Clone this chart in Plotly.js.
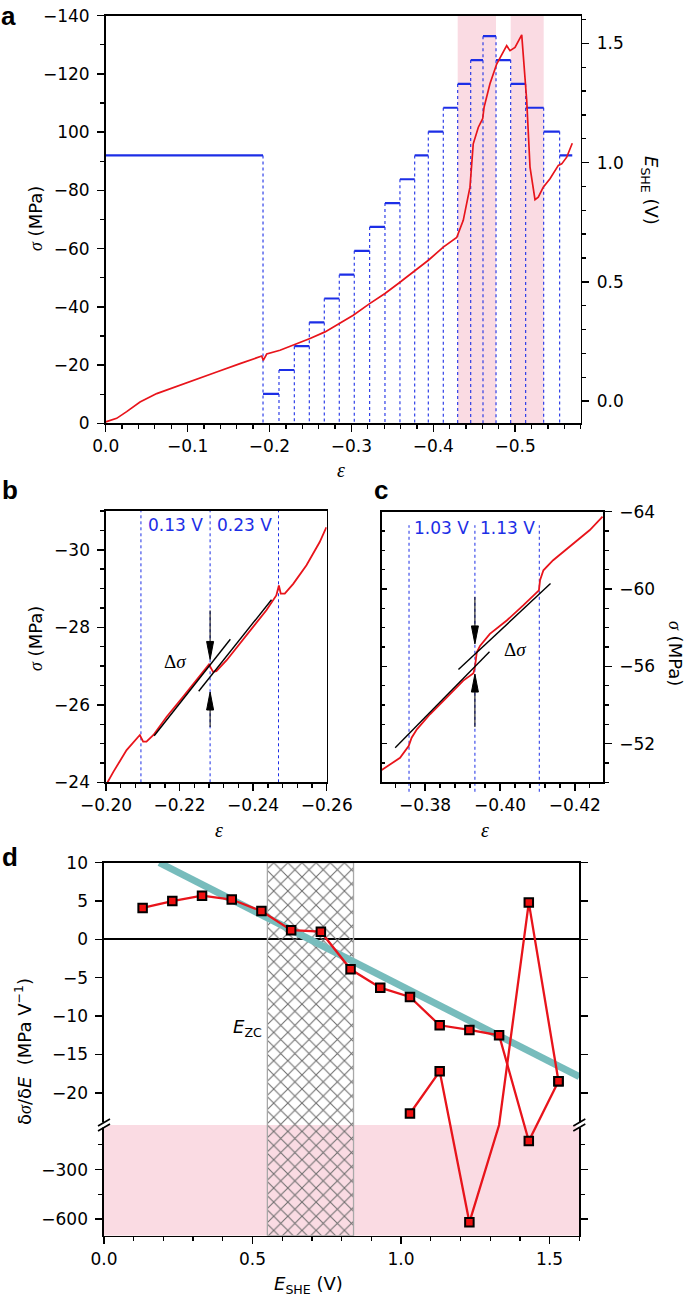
<!DOCTYPE html>
<html><head><meta charset="utf-8">
<script src="https://cdn.plot.ly/plotly-3.0.1.min.js"></script>
<style>html,body{margin:0;padding:0;background:#fff;}#chart{width:685px;height:1302px;}</style>
</head><body><div id="chart"></div>
<script>
// ---------------- DATA ----------------
// Panel a: stress-strain curve
const strainA = [0, -0.0134, -0.0256, -0.0419, -0.0623, -0.0989, -0.1355, -0.164, -0.1905, -0.1924, -0.1966, -0.2128, -0.229, -0.2495, -0.2678, -0.2849, -0.3023, -0.3223, -0.341, -0.3573, -0.3777, -0.394, -0.4122, -0.4286, -0.4366, -0.4448, -0.4488, -0.455, -0.4603, -0.462, -0.4692, -0.4774, -0.4896, -0.4937, -0.4998, -0.508, -0.5141, -0.5181, -0.5242, -0.5282, -0.5343, -0.5425, -0.5527, -0.5568, -0.5629, -0.5697];
const stressA = [-0.5, -1.7, -4, -7.3, -10.2, -13.8, -17.6, -20.5, -23.1, -21.6, -23.8, -25.1, -26.8, -29.1, -31.4, -34.3, -37.1, -41.1, -44.6, -48, -52.6, -56, -60.5, -63.8, -69.7, -81.1, -96, -101.7, -104.6, -108.5, -116.6, -123.4, -129.7, -128, -129.1, -133.4, -110.8, -88, -76.8, -77.7, -81.1, -84, -88.6, -89.1, -91.4, -96.2];
// Panel a: potential steps (edges in strain, potential in V)
const stepEdgesA = [0, -0.1921, -0.2116, -0.2303, -0.2486, -0.2669, -0.2852, -0.3035, -0.3223, -0.3410, -0.3593, -0.3773, -0.3939, -0.4122, -0.4298, -0.4457, -0.4607, -0.4766, -0.4945, -0.5128, -0.5348, -0.5543, -0.5697];
const stepPotentialA = [1.03, 0.03, 0.13, 0.23, 0.33, 0.43, 0.53, 0.63, 0.73, 0.83, 0.93, 1.03, 1.13, 1.23, 1.33, 1.43, 1.53, 1.43, 1.33, 1.23, 1.13, 1.03];
const pinkStartA = [-0.4298, -0.4945];
const pinkEndA = [-0.4766, -0.5348];
const xTicksA = [0, -0.1, -0.2, -0.3, -0.4, -0.5];
const stressTickValsA = [0, -20, -40, -60, -80, -100, -120, -140];
const stressTickTextA = ['0', '\u221220', '\u221240', '\u221260', '\u221280', '100', '\u2212120', '\u2212140'];

// Panel b
const strainB = [-0.2, -0.202, -0.2056, -0.2083, -0.2092, -0.2101, -0.211, -0.2129, -0.2165, -0.221, -0.2255, -0.228, -0.2291, -0.23, -0.2328, -0.2364, -0.24, -0.2436, -0.2463, -0.247, -0.2475, -0.2486, -0.2509, -0.2545, -0.2581, -0.2599];
const stressB = [-23.93, -24.27, -24.83, -25.13, -25.22, -25.05, -25.05, -25.22, -25.69, -26.21, -26.76, -27.04, -26.85, -26.87, -27.15, -27.58, -28.0, -28.44, -28.82, -29.08, -28.87, -28.87, -29.12, -29.6, -30.2, -30.58];
const switchStrainB = [-0.2095, -0.2283, -0.2469];
const switchLabelsB = ['0.13 V', '0.23 V'];
const fit1StrainB = [-0.2131, -0.2338];
const fit1StressB = [-25.2, -27.69];
const fit2StrainB = [-0.2252, -0.245];
const fit2StressB = [-26.35, -28.71];
const arrowTipsB = [-27.17, -26.33];
const deltaLabelB = [-0.2188, -27.12];

// Panel c
const strainC = [-0.3684, -0.3707, -0.3733, -0.3756, -0.3764, -0.3778, -0.3813, -0.3858, -0.3902, -0.3929, -0.3933, -0.3938, -0.3947, -0.3973, -0.4018, -0.4062, -0.4104, -0.4107, -0.4116, -0.4142, -0.4196, -0.424, -0.4274];
const stressC = [-50.63, -50.93, -51.27, -51.88, -52.31, -52.74, -53.52, -54.39, -55.26, -55.64, -55.95, -56.73, -57.07, -57.68, -58.37, -59.15, -59.93, -60.45, -60.97, -61.49, -62.35, -63.05, -63.74];
const switchStrainC = [-0.3757, -0.3933, -0.4105];
const switchLabelsC = ['1.03 V', '1.13 V'];
const fit1StrainC = [-0.372, -0.3972];
const fit1StressC = [-51.79, -56.76];
const fit2StrainC = [-0.3889, -0.4135];
const fit2StressC = [-55.83, -60.28];
const arrowTipsC = [-57.16, -55.6];
const deltaLabelC = [-0.404, -56.87];

// Panel d
const potentialD = [0.13, 0.23, 0.33, 0.43, 0.53, 0.63, 0.73, 0.83, 0.93, 1.03, 1.13, 1.23, 1.33, 1.43, 1.53];
const slopeMainD = [4.1, 5.0, 5.7, 5.2, 3.7, 1.2, 1.0, -3.9, -6.3, -7.5, -11.2, -11.8, -12.5, -127, -18.5];
const potentialD2 = [1.03, 1.13, 1.23, 1.33, 1.43, 1.53];
const slopeSecondD = [-22.7, -17.2, -619, -27, 4.8, -18.5];
const trendPotentialD = [0.186, 1.6];
const trendSlopeD = [10, -17.9];
const ezcBandD = [0.55, 0.84];
const yTickValsD = [10, 5, 0, -5, -10, -15, -20, -300, -600];
const yTickTextD = ['10', '5', '0', '\u22125', '\u221210', '\u221215', '\u221220', '\u2212300', '\u2212600'];
const yMinorValsD = [-150, -450];

// ---------------- SCALES / HELPERS ----------------
const W = 685, H = 1302;
const fx = p => p / W, fy = p => 1 - p / H;
const RED = '#e8141b', BLUE = '#1c2ee6', PINK = '#fadbe3';
const TICKFONT = {family: 'DejaVu Sans', size: 17, color: '#000'};
const E_RANGE = [-0.0935, 1.616];

// broken axis transform for panel d
const D_TOP = [-24.2, 10], D_BOT = [-700, -30], D_FRAC = 0.7032;
const D_RATIO = ((1 - D_FRAC) / (D_BOT[1] - D_BOT[0])) / (D_FRAC / (D_TOP[1] - D_TOP[0]));
function tD(v) {
  if (v >= D_TOP[0]) return v;
  if (v <= D_BOT[1]) return D_TOP[0] - (D_BOT[1] - v) * D_RATIO;
  return D_TOP[0];
}
const inGap = v => v < D_TOP[0] && v > D_BOT[1];

function baseAxis(extra) {
  return Object.assign({
    showgrid: false, zeroline: false, showline: true, linecolor: '#000', linewidth: 1.6,
    ticks: 'outside', ticklen: 7, tickwidth: 1.5, tickcolor: '#000', tickfont: TICKFONT,
    fixedrange: true
  }, extra);
}

// ---------------- TRACES ----------------
const traces = [];
// Panel a: step lines (E axis = y)
const stepX = [], stepY = [];
for (let i = 0; i < stepPotentialA.length; i++) {
  stepX.push(stepEdgesA[i], stepEdgesA[i + 1], null);
  stepY.push(stepPotentialA[i], stepPotentialA[i], null);
}
const dotX = [], dotY = [];
for (let i = 1; i < stepPotentialA.length; i++) {
  dotX.push(stepEdgesA[i], stepEdgesA[i], null);
  dotY.push(Math.max(stepPotentialA[i - 1], stepPotentialA[i]), E_RANGE[0], null);
}
traces.push({x: dotX, y: dotY, xaxis: 'x', yaxis: 'y', mode: 'lines', line: {color: BLUE, width: 1.1, dash: 'dot'}, hoverinfo: 'skip'});
traces.push({x: stepX, y: stepY, xaxis: 'x', yaxis: 'y', mode: 'lines', line: {color: BLUE, width: 2.2}, hoverinfo: 'skip'});
traces.push({x: strainA, y: stressA, xaxis: 'x', yaxis: 'y2', mode: 'lines', line: {color: RED, width: 1.7}, hoverinfo: 'skip'});

// Panel b
traces.push({x: strainB, y: stressB, xaxis: 'x2', yaxis: 'y3', mode: 'lines', line: {color: RED, width: 1.8}});
traces.push({x: fit1StrainB, y: fit1StressB, xaxis: 'x2', yaxis: 'y3', mode: 'lines', line: {color: '#000', width: 1.4}});
traces.push({x: fit2StrainB, y: fit2StressB, xaxis: 'x2', yaxis: 'y3', mode: 'lines', line: {color: '#000', width: 1.4}});

// Panel c
traces.push({x: strainC, y: stressC, xaxis: 'x3', yaxis: 'y4', mode: 'lines', line: {color: RED, width: 1.8}});
traces.push({x: fit1StrainC, y: fit1StressC, xaxis: 'x3', yaxis: 'y4', mode: 'lines', line: {color: '#000', width: 1.4}});
traces.push({x: fit2StrainC, y: fit2StressC, xaxis: 'x3', yaxis: 'y4', mode: 'lines', line: {color: '#000', width: 1.4}});
traces.push({x: [], y: [], xaxis: 'x3', yaxis: 'y5', mode: 'lines'});

// Panel d
traces.push({x: [ezcBandD[0], ezcBandD[1], ezcBandD[1], ezcBandD[0], ezcBandD[0]],
  y: [tD(D_BOT[0]), tD(D_BOT[0]), D_TOP[1], D_TOP[1], tD(D_BOT[0])],
  xaxis: 'x4', yaxis: 'y6', mode: 'lines', fill: 'toself', fillcolor: 'rgba(0,0,0,0)',
  fillpattern: {shape: 'x', fgcolor: '#6e6e6e', size: 10, solidity: 0.2},
  line: {color: '#a8a8a8', width: 1.3}, hoverinfo: 'skip'});
traces.push({x: trendPotentialD, y: trendSlopeD.map(tD), xaxis: 'x4', yaxis: 'y6', mode: 'lines', line: {color: '#77bcbc', width: 7}});
traces.push({x: potentialD2, y: slopeSecondD.map(tD), xaxis: 'x4', yaxis: 'y6', mode: 'lines', line: {color: RED, width: 2.3}});
traces.push({x: potentialD, y: slopeMainD.map(tD), xaxis: 'x4', yaxis: 'y6', mode: 'lines', line: {color: RED, width: 2.3}});
const mkX = [], mkY = [];
potentialD.forEach((e, i) => { if (!inGap(slopeMainD[i])) { mkX.push(e); mkY.push(tD(slopeMainD[i])); } });
potentialD2.forEach((e, i) => { if (!inGap(slopeSecondD[i])) { mkX.push(e); mkY.push(tD(slopeSecondD[i])); } });
traces.push({x: mkX, y: mkY, xaxis: 'x4', yaxis: 'y6', mode: 'markers',
  marker: {symbol: 'square', size: 8.5, color: '#f01010', line: {color: '#000', width: 2}}});

// ---------------- SHAPES ----------------
const shapes = [];
pinkStartA.forEach((s, i) => shapes.push({type: 'rect', xref: 'x', yref: 'y domain', x0: s, x1: pinkEndA[i], y0: 0, y1: 1, fillcolor: PINK, line: {width: 0}, layer: 'below'}));
switchStrainB.forEach(s => shapes.push({type: 'line', xref: 'x2', yref: 'y3 domain', x0: s, x1: s, y0: 0, y1: 1, line: {color: BLUE, width: 1, dash: 'dot'}, layer: 'below'}));
switchStrainC.forEach(s => shapes.push({type: 'line', xref: 'x3', yref: 'y4 domain', x0: s, x1: s, y0: -0.035, y1: 0.95, line: {color: BLUE, width: 1, dash: 'dot'}, layer: 'below'}));
shapes.push({type: 'rect', xref: 'x4 domain', yref: 'y6', x0: 0, x1: 1, y0: tD(D_BOT[0]), y1: D_TOP[0], fillcolor: PINK, line: {width: 0}, layer: 'below'});
// arrows (Δσ)
function arrowShape(xref, yref, x, y, dir, len) {
  const s = dir; // +1 : head points down (tail above), -1 : head points up
  return {type: 'path', xref: xref, yref: yref, xsizemode: 'pixel', ysizemode: 'pixel', xanchor: x, yanchor: y,
    path: `M0,0 L-3.5,${18 * s} L3.5,${18 * s} Z M0,${18 * s} L0,${len * s}`,
    fillcolor: '#000', line: {color: '#000', width: 1}};
}
shapes.push(arrowShape('x2', 'y3', switchStrainB[1], arrowTipsB[0], 1, 49));
shapes.push(arrowShape('x2', 'y3', switchStrainB[1], arrowTipsB[1], -1, 35));
shapes.push(arrowShape('x3', 'y4', switchStrainC[1], arrowTipsC[0], 1, 47));
shapes.push(arrowShape('x3', 'y4', switchStrainC[1], arrowTipsC[1], -1, 53));
// axis break marks in panel d
[0, 1].forEach(side => {
  shapes.push({type: 'rect', xref: 'x4 domain', yref: 'y6', xsizemode: 'pixel', ysizemode: 'pixel', xanchor: side, yanchor: D_TOP[0],
    x0: -3, x1: 3, y0: -2.5, y1: 2.5, fillcolor: '#fff', line: {width: 0}});
  [-2.5, 2.5].forEach(off => shapes.push({type: 'line', xref: 'x4 domain', yref: 'y6', xsizemode: 'pixel', ysizemode: 'pixel', xanchor: side, yanchor: D_TOP[0],
    x0: -6, x1: 6, y0: off - 3.5, y1: off + 3.5, line: {color: '#000', width: 1.6}}));
});

// ---------------- ANNOTATIONS ----------------
const SIG = '<span style="font-family:Liberation Serif"><i>σ</i></span>';
const EPS = '<span style="font-family:Liberation Serif"><i>ε</i></span>';
function ann(text, xp, yp, o) {
  return Object.assign({text: text, xref: 'paper', yref: 'paper', x: fx(xp), y: fy(yp), showarrow: false,
    xanchor: 'center', yanchor: 'middle', font: {family: 'DejaVu Sans', size: 18, color: '#000'}}, o || {});
}
const LETTERFONT = {family: 'Liberation Sans', size: 26, color: '#000'};
const annotations = [
  ann('<b>a</b>', 0, 0, {xanchor: 'left', yanchor: 'top', borderpad: 0, font: LETTERFONT}),
  ann('<b>b</b>', 0, 490, {xanchor: 'left', font: LETTERFONT}),
  ann('<b>c</b>', 372, 490, {xanchor: 'left', font: LETTERFONT}),
  ann('<b>d</b>', 0, 857, {xanchor: 'left', font: LETTERFONT}),
  ann(SIG + ' (MPa)', 35, 219, {textangle: -90}),
  ann('<i>E</i><sub>SHE</sub> (V)', 650, 190, {textangle: 90}),
  ann(EPS, 341, 470, {font: {family: 'Liberation Serif', size: 20, color: '#000'}}),
  ann(SIG + ' (MPa)', 35, 639, {textangle: -90}),
  ann(EPS, 219, 830, {font: {family: 'Liberation Serif', size: 20, color: '#000'}}),
  ann(EPS, 485, 830, {font: {family: 'Liberation Serif', size: 20, color: '#000'}}),
  ann(SIG + ' (MPa)', 676, 653, {textangle: 90}),
  ann('δ' + SIG + '/δ<i>E</i>  (MPa V<sup>\u22121</sup>)', 23, 1052, {textangle: -90}),
  ann('<i>E</i><sub>SHE</sub> (V)', 308, 1285),
  {text: '<i>E</i><sub>ZC</sub>', xref: 'x4', yref: 'y6', x: ezcBandD[0], y: -11.6, xanchor: 'right', xshift: -3, yanchor: 'middle', showarrow: false, font: {family: 'DejaVu Sans', size: 18, color: '#000'}},
  {text: 'Δ<i>σ</i>', xref: 'x2', yref: 'y3', x: deltaLabelB[0], y: deltaLabelB[1], showarrow: false, font: {family: 'Liberation Serif', size: 19, color: '#000'}},
  {text: 'Δ<i>σ</i>', xref: 'x3', yref: 'y4', x: deltaLabelC[0], y: deltaLabelC[1], showarrow: false, font: {family: 'Liberation Serif', size: 19, color: '#000'}}
];
switchLabelsB.forEach((t, i) => annotations.push({text: t, xref: 'x2', yref: 'y3 domain', x: (switchStrainB[i] + switchStrainB[i + 1]) / 2, y: 0.948, showarrow: false, yanchor: 'middle', font: {family: 'DejaVu Sans', size: 17, color: BLUE}}));
switchLabelsC.forEach((t, i) => annotations.push({text: t, xref: 'x3', yref: 'y4 domain', x: (switchStrainC[i] + switchStrainC[i + 1]) / 2, y: 0.94, showarrow: false, yanchor: 'middle', font: {family: 'DejaVu Sans', size: 17, color: BLUE}}));

// ---------------- LAYOUT ----------------
const stressMinorA = []; for (let v = 0; v >= -140; v -= 10) stressMinorA.push(v);
const layout = {
  width: W, height: H, margin: {l: 0, r: 0, t: 0, b: 0}, paper_bgcolor: '#fff', plot_bgcolor: 'rgba(0,0,0,0)', showlegend: false,
  xaxis: baseAxis({domain: [fx(105.7), fx(580.7)], anchor: 'y', range: [0, -0.58], tickmode: 'array', tickvals: xTicksA, tickformat: '.1f', mirror: true,
    minor: {dtick: 0.02, tick0: 0, ticklen: 4, tickwidth: 1.3, ticks: 'outside'}}),
  yaxis: baseAxis({domain: [fy(423.3), fy(15.7)], anchor: 'x', side: 'right', range: E_RANGE, dtick: 0.5, tick0: 0, tickformat: '.1f',
    minor: {dtick: 0.1, tick0: 0, ticklen: 4, tickwidth: 1.3, ticks: 'outside'}, ticklabelstandoff: 4}),
  yaxis2: baseAxis({domain: [fy(423.3), fy(15.7)], anchor: 'x', overlaying: 'y', side: 'left', range: [0, -140], tickmode: 'array', tickvals: stressTickValsA, ticktext: stressTickTextA,
    minor: {tickmode: 'array', tickvals: stressMinorA, ticklen: 4, tickwidth: 1.3, ticks: 'outside'}, ticklabelstandoff: 4}),
  xaxis2: baseAxis({domain: [fx(106), fx(326.7)], anchor: 'y3', range: [-0.2, -0.26], dtick: 0.02, tick0: 0, tickformat: '.2f', mirror: true,
    minor: {dtick: 0.004, tick0: 0, ticklen: 4, tickwidth: 1.3, ticks: 'outside'}}),
  yaxis3: baseAxis({domain: [fy(782.3), fy(511)], anchor: 'x2', range: [-24, -31], dtick: 2, tick0: 0, mirror: true,
    minor: {dtick: 0.5, tick0: 0, ticklen: 4, tickwidth: 1.3, ticks: 'outside'}, ticklabelstandoff: 4}),
  xaxis3: baseAxis({domain: [fx(381.7), fx(603.3)], anchor: 'y4', range: [-0.3684, -0.4276], dtick: 0.02, tick0: 0, tickformat: '.2f', mirror: true,
    minor: {dtick: 0.004, tick0: 0, ticklen: 4, tickwidth: 1.3, ticks: 'outside'}}),
  yaxis4: baseAxis({domain: [fy(782.3), fy(511.7)], anchor: 'x3', side: 'right', range: [-50, -64], dtick: 4, tick0: 0,
    minor: {dtick: 1, tick0: 0, ticklen: 4, tickwidth: 1.3, ticks: 'outside'}, ticklabelstandoff: 4}),
  yaxis5: baseAxis({domain: [fy(782.3), fy(511.7)], anchor: 'x3', overlaying: 'y4', side: 'left', range: [-50, -64], dtick: 4, tick0: 0,
    ticks: 'inside', ticklen: 5, showticklabels: false,
    minor: {dtick: 1, tick0: 0, ticklen: 3, tickwidth: 1.3, ticks: 'inside'}}),
  xaxis4: baseAxis({domain: [fx(104), fx(579.3)], anchor: 'y6', range: [0, 1.6], dtick: 0.5, tick0: 0, tickformat: '.1f', mirror: true,
    minor: {dtick: 0.1, tick0: 0, ticklen: 4, tickwidth: 1.3, ticks: 'outside'}}),
  yaxis6: baseAxis({domain: [fy(1235.7), fy(862.7)], anchor: 'x4', range: [tD(D_BOT[0]), D_TOP[1]], tickmode: 'array', tickvals: yTickValsD.map(tD), ticktext: yTickTextD,
    mirror: 'allticks', zeroline: true, zerolinecolor: '#000', zerolinewidth: 1.8,
    minor: {tickmode: 'array', tickvals: yMinorValsD.map(tD), ticklen: 4, tickwidth: 1.3, ticks: 'outside'}, ticklabelstandoff: 4}),
  shapes: shapes,
  annotations: annotations
};
Plotly.newPlot('chart', traces, layout, {staticPlot: true});
</script></body></html>
